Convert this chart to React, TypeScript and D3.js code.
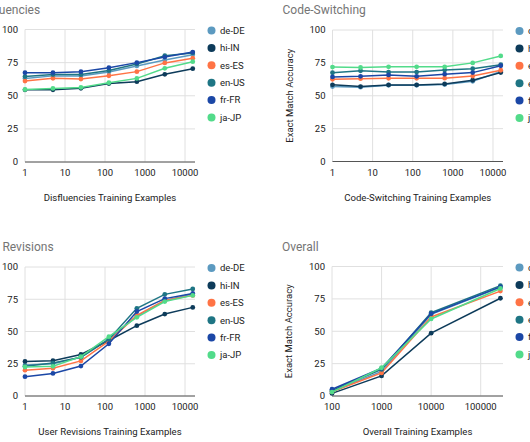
import React from "react";
import * as d3 from "d3";

const languages = ["de-DE", "hi-IN", "es-ES", "en-US", "fr-FR", "ja-JP"];
const colors = ["#5c9ac0", "#0d3b5a", "#ff7345", "#1e7584", "#1b47a6", "#52db8a"];

const yTicks = [0, 25, 50, 75, 100];
const smallTicks = [1, 10, 100, 1000, 10000];
const overallTicks = [100, 1000, 10000, 100000];

const disfluencyX = [1, 5, 25, 125, 625, 3125, 15625];
const disfluencySeries = [
  [63, 65, 65, 68, 72.5, 77, 81],
  [54.5, 54.5, 55.6, 59.2, 60.6, 66.2, 70.4],
  [61.1, 63.2, 62.6, 65.1, 68.2, 74.8, 78.3],
  [64.5, 66, 66, 69, 74, 80.2, 82.3],
  [67.4, 67.4, 68.2, 71.2, 75, 79.2, 83],
  [54.7, 55.5, 56.3, 59.8, 63.1, 70.7, 75.7],
];

const codeSwitchX = [1, 5, 25, 125, 625, 3125, 15625];
const codeSwitchSeries = [
  [57, 56.5, 58, 58, 58.5, 61, 68.5],
  [58.3, 57, 58.2, 58.2, 59, 61.8, 67.6],
  [62.5, 63, 63.3, 63.3, 63.4, 65, 69.4],
  [67.5, 69, 68, 68, 69.5, 70.6, 73.6],
  [64.3, 64.8, 65.8, 64.8, 66.4, 67.6, 72.8],
  [71.8, 71.5, 72, 72, 72, 75, 80.3],
];

const revisionX = [1, 5, 25, 125, 625, 3125, 15625];
const revisionSeries = [
  [24, 25, 30, 44, 62, 74, 79],
  [26.8, 27.4, 32.2, 43, 54.5, 63.5, 68.7],
  [20, 21.5, 27.2, 42.5, 62.5, 74, 78],
  [23, 25.5, 30, 44, 68, 78.8, 83],
  [15, 17.5, 23.2, 40.5, 65.5, 75.5, 79.5],
  [22.5, 23, 30.5, 46, 61, 73.2, 78],
];

const overallX = [100, 1000, 10000, 250000];
const overallSeries = [
  [3.5, 19, 63, 84],
  [2, 15.5, 48.5, 75.5],
  [3.3, 17.8, 61, 81],
  [4.3, 20.5, 64.3, 85.2],
  [5.2, 21.4, 63.5, 84.3],
  [3, 21.8, 59.5, 83],
];

type PanelProps = {
  title: string;
  xTitle: string;
  xs: number[];
  series: number[][];
  xDomain: [number, number];
  xTicks: number[];
  left: number;
  right: number;
  top: number;
  bottom: number;
};

const FONT = "Roboto, 'Noto Sans', sans-serif";

function Panel(p: PanelProps) {
  const x = d3.scaleLog().domain(p.xDomain).range([p.left, p.right]);
  const y = d3.scaleLinear().domain([0, 100]).range([p.bottom, p.top]);
  const line = d3
    .line<[number, number]>()
    .x((d) => x(d[0]))
    .y((d) => y(d[1]));
  return (
    <g fontFamily={FONT}>
      <text x={p.left - 50} y={p.top - 16} fontSize={12} fill="#757575">
        {p.title}
      </text>
      {yTicks.map((t) => (
        <line key={"h" + t} x1={p.left} x2={p.right} y1={y(t)} y2={y(t)} stroke="#e0e0e0" strokeWidth={1} />
      ))}
      {p.xTicks.map((t) => (
        <line key={"v" + t} x1={x(t)} x2={x(t)} y1={p.top} y2={p.bottom} stroke="#e0e0e0" strokeWidth={1} />
      ))}
      <line x1={p.left} x2={p.right} y1={y(0)} y2={y(0)} stroke="#555" strokeWidth={1} />
      {yTicks.map((t) => (
        <text key={"yl" + t} x={p.left - 7} y={y(t)} dy="0.35em" textAnchor="end" fontSize={9.5} fill="#222">
          {t}
        </text>
      ))}
      {p.xTicks.map((t) => (
        <text key={"xl" + t} x={x(t)} y={p.bottom + 14} textAnchor="middle" fontSize={9.5} fill="#222">
          {t}
        </text>
      ))}
      <text x={(p.left + p.right) / 2} y={p.bottom + 39} textAnchor="middle" fontSize={9.6} fill="#222">
        {p.xTitle}
      </text>
      <text
        transform={`translate(${p.left - 40},${(p.top + p.bottom) / 2}) rotate(-90)`}
        textAnchor="middle"
        fontSize={9.5}
        fill="#222"
      >
        Exact Match Accuracy
      </text>
      {p.series.map((vals, i) => {
        const pts = p.xs.map((xv, j) => [xv, vals[j]] as [number, number]);
        return (
          <g key={languages[i]}>
            <path d={line(pts) || ""} fill="none" stroke={colors[i]} strokeWidth={1.5} />
            {pts.map((d, j) => (
              <circle key={j} cx={x(d[0])} cy={y(d[1])} r={2.4} fill={colors[i]} />
            ))}
          </g>
        );
      })}
      {languages.map((lang, i) => (
        <g key={"lg" + lang}>
          <circle cx={p.right + 16.5} cy={p.top + 1 + i * 17.4} r={4} fill={colors[i]} />
          <text x={p.right + 25} y={p.top + 1 + i * 17.4} dy="0.35em" fontSize={9.5} fill="#222">
            {lang}
          </text>
        </g>
      ))}
    </g>
  );
}

export default function App() {
  const smallDomain: [number, number] = [1, Math.pow(10, 4.25)];
  return (
    <svg width={530} height={442} style={{ position: "absolute", left: 0, top: 0, background: "#fff" }}>
      <rect width={530} height={442} fill="#fff" />
      <Panel
        title="Disfluencies"
        xTitle="Disfluencies Training Examples"
        xs={disfluencyX}
        series={disfluencySeries}
        xDomain={smallDomain}
        xTicks={smallTicks}
        left={25}
        right={195}
        top={29.5}
        bottom={162}
      />
      <Panel
        title="Code-Switching"
        xTitle="Code-Switching Training Examples"
        xs={codeSwitchX}
        series={codeSwitchSeries}
        xDomain={smallDomain}
        xTicks={smallTicks}
        left={332.5}
        right={503}
        top={30}
        bottom={161.5}
      />
      <Panel
        title="User Revisions"
        xTitle="User Revisions Training Examples"
        xs={revisionX}
        series={revisionSeries}
        xDomain={smallDomain}
        xTicks={smallTicks}
        left={25}
        right={195}
        top={267}
        bottom={396}
      />
      <Panel
        title="Overall"
        xTitle="Overall Training Examples"
        xs={overallX}
        series={overallSeries}
        xDomain={[100, Math.pow(10, 5.45)]}
        xTicks={overallTicks}
        left={332}
        right={503}
        top={266.5}
        bottom={396}
      />
    </svg>
  );
}
